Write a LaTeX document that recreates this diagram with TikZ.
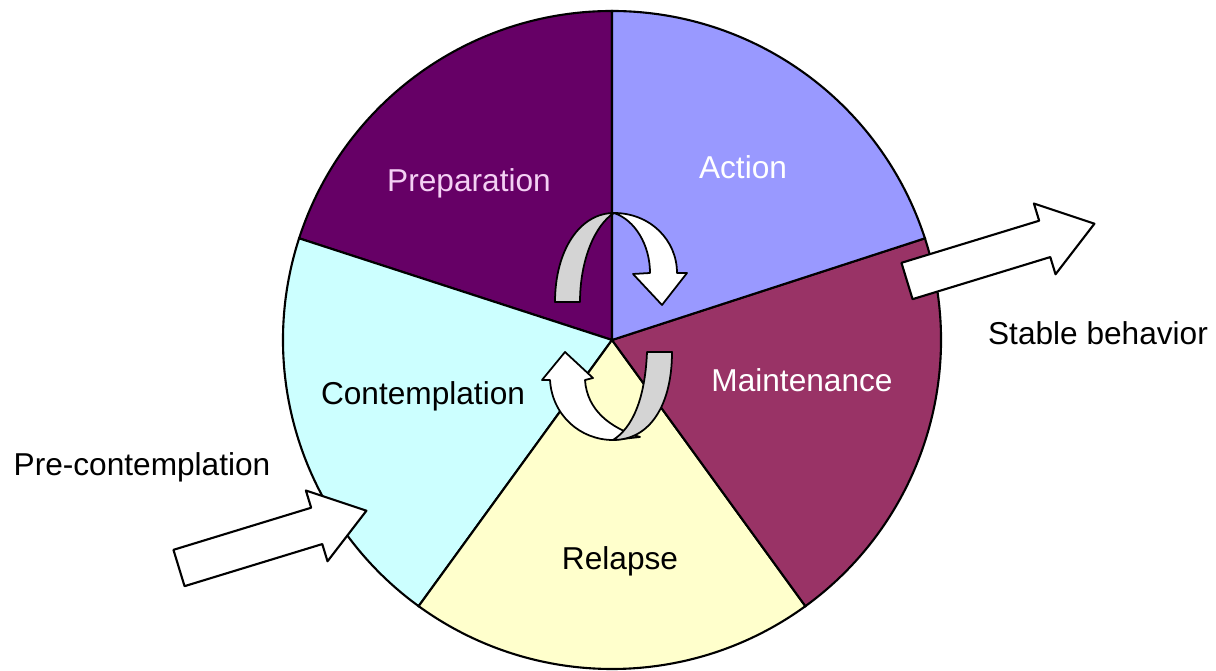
\documentclass[tikz,border=0pt]{standalone}
\usepackage{fontspec}
\setmainfont{Liberation Sans}

\definecolor{prepcol}{HTML}{660066}
\definecolor{actcol}{HTML}{9999FF}
\definecolor{maintcol}{HTML}{993366}
\definecolor{relcol}{HTML}{FFFFCC}
\definecolor{contcol}{HTML}{CCFFFF}
\definecolor{backcol}{HTML}{D4D4D4}
\definecolor{pinktext}{HTML}{F4D0F4}

\tikzset{
	wedge/.style={draw=black, line width=0.6pt},
	label/.style={font=\fontsize{9}{11}\selectfont, inner sep=0pt},
	blockarrow/.style={draw=black, fill=white, line width=0.6pt, line join=round},
	ribbon/.style={draw=black, line width=0.5pt, line join=round}
}

\begin{document}
\begin{tikzpicture}
	\useasboundingbox (0,0) rectangle (12.16,6.70);
	% Wedges, arrows and labels:
	\coordinate (c) at (6.12,3.30);
	\filldraw[wedge, fill=prepcol] (c) -- +(90:3.29) arc (90:162:3.29) -- cycle;
	\filldraw[wedge, fill=contcol] (c) -- +(162:3.29) arc (162:234:3.29) -- cycle;
	\filldraw[wedge, fill=relcol] (c) -- +(234:3.29) arc (234:306:3.29) -- cycle;
	\filldraw[wedge, fill=maintcol] (c) -- +(306:3.29) arc (306:378:3.29) -- cycle;
	\filldraw[wedge, fill=actcol] (c) -- +(18:3.29) arc (18:90:3.29) -- cycle;
	\filldraw[ribbon, fill=backcol] (5.55,3.68) .. controls (5.55,4.20) and (5.80,4.57) .. (6.14,4.57) .. controls (5.95,4.45) and (5.80,4.10) .. (5.80,3.68) -- cycle;
	\filldraw[ribbon, fill=white] (6.14,4.57) .. controls (6.50,4.57) and (6.77,4.30) .. (6.77,3.97) -- (6.87,3.97) -- (6.62,3.65) -- (6.33,3.96) -- (6.50,3.97) .. controls (6.50,4.25) and (6.35,4.50) .. (6.14,4.57) -- cycle;
	\filldraw[ribbon, fill=white] (5.50,2.90) .. controls (5.52,2.55) and (5.80,2.30) .. (6.13,2.30) -- (6.40,2.33) .. controls (6.10,2.42) and (5.87,2.60) .. (5.85,2.90) -- (5.93,2.92) -- (5.65,3.18) -- (5.42,2.90) -- cycle;
	\filldraw[ribbon, fill=backcol] (6.72,3.18) .. controls (6.72,2.65) and (6.50,2.30) .. (6.13,2.30) .. controls (6.32,2.42) and (6.45,2.70) .. (6.47,3.18) -- cycle;
	\draw[blockarrow, shift={(1.79,1.02)}, rotate=17] (0,0.19) -- (1.44,0.19) -- (1.44,0.37) -- (1.96,0) -- (1.44,-0.37) -- (1.44,-0.19) -- (0,-0.19) -- cycle;
	\draw[blockarrow, shift={(9.07,3.89)}, rotate=17] (0,0.19) -- (1.44,0.19) -- (1.44,0.37) -- (1.96,0) -- (1.44,-0.37) -- (1.44,-0.19) -- (0,-0.19) -- cycle;
	\node[label, text=pinktext] (prep) at (4.69,4.87) {Preparation};
	\node[label, text=white] (action) at (7.43,5.03) {Action};
	\node[label, text=white] (maint) at (8.02,2.90) {Maintenance};
	\node[label] (relapse) at (6.20,1.09) {Relapse};
	\node[label] (contemp) at (4.23,2.74) {Contemplation};
	\node[label] (precont) at (1.42,2.03) {Pre-contemplation};
	\node[label] (stable) at (10.98,3.37) {Stable behavior};
\end{tikzpicture}
\end{document}
